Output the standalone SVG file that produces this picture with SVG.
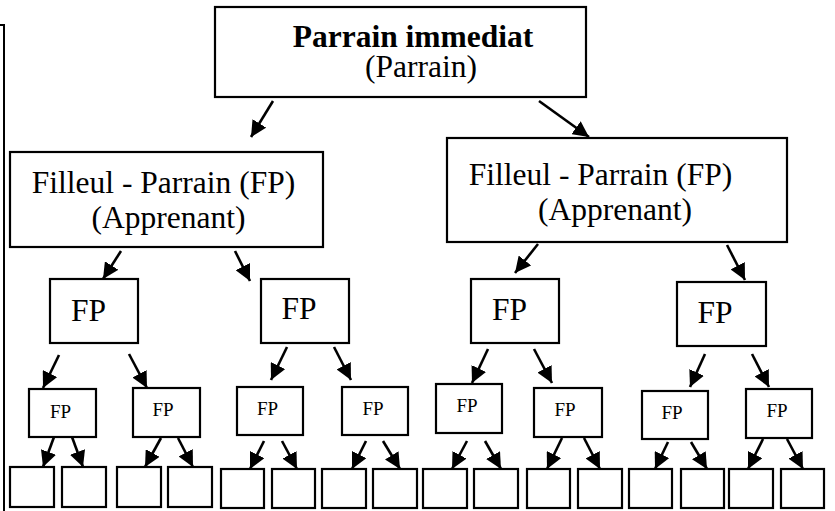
<svg xmlns="http://www.w3.org/2000/svg" width="835" height="511" viewBox="0 0 835 511">
<defs>
<marker id="ah" markerUnits="userSpaceOnUse" markerWidth="17" markerHeight="16" refX="16" refY="8" orient="auto">
<path d="M0,0 L16,8 L0,16 z" fill="#000"/>
</marker>
<style>
.b{fill:#fff;stroke:#000;stroke-width:2.2}
.big{font-size:31.5px}
.sm{font-size:19px}
.c line{stroke:#000;stroke-width:2.6;marker-end:url(#ah)}
</style>
</defs>
<rect width="835" height="511" fill="#fff"/>
<polyline points="0,25 4,25 4,511" fill="none" stroke="#000" stroke-width="2"/>

<g font-family="Liberation Serif, Times New Roman, serif" fill="#000">
<g id="root">
<rect class="b" x="215" y="7" width="371" height="90"/>
<text class="big" x="413" y="47" text-anchor="middle" font-weight="bold">Parrain immediat</text>
<text class="big" x="421" y="77" text-anchor="middle">(Parrain)</text>
</g>
<g id="fp-left">
<rect class="b" x="10" y="152" width="313" height="95"/>
<text class="big" x="163.5" y="193" text-anchor="middle">Filleul - Parrain (FP)</text>
<text class="big" x="168.5" y="228" text-anchor="middle">(Apprenant)</text>
</g>
<g id="fp-right">
<rect class="b" x="447" y="138" width="340" height="104"/>
<text class="big" x="600.5" y="185" text-anchor="middle">Filleul - Parrain (FP)</text>
<text class="big" x="615" y="220" text-anchor="middle">(Apprenant)</text>
</g>

<g id="a"><rect class="b" x="50" y="279" width="88" height="64"/><text class="big" x="88.5" y="321" text-anchor="middle">FP</text></g>
<g id="b"><rect class="b" x="261" y="279" width="88" height="64"/><text class="big" x="299" y="319" text-anchor="middle">FP</text></g>
<g id="d"><rect class="b" x="471" y="279" width="88" height="64"/><text class="big" x="509.5" y="320" text-anchor="middle">FP</text></g>
<g id="e"><rect class="b" x="677" y="282" width="89" height="64"/><text class="big" x="715" y="323" text-anchor="middle">FP</text></g>

<g id="c1"><rect class="b" x="29" y="389" width="67" height="48"/><text class="sm" x="60.5" y="418" text-anchor="middle">FP</text></g>
<g id="c2"><rect class="b" x="133" y="388" width="67" height="49"/><text class="sm" x="163" y="416" text-anchor="middle">FP</text></g>
<g id="c3"><rect class="b" x="237" y="387" width="66" height="48"/><text class="sm" x="267.5" y="415" text-anchor="middle">FP</text></g>
<g id="c4"><rect class="b" x="342" y="387" width="66" height="48"/><text class="sm" x="373" y="415" text-anchor="middle">FP</text></g>
<g id="f1"><rect class="b" x="436" y="384" width="66" height="49"/><text class="sm" x="467" y="412" text-anchor="middle">FP</text></g>
<g id="f2"><rect class="b" x="534" y="388" width="68" height="49"/><text class="sm" x="565" y="416" text-anchor="middle">FP</text></g>
<g id="f3"><rect class="b" x="642" y="391" width="66" height="48"/><text class="sm" x="672" y="419" text-anchor="middle">FP</text></g>
<g id="f4"><rect class="b" x="746" y="389" width="66" height="49"/><text class="sm" x="777" y="417" text-anchor="middle">FP</text></g>
</g>

<g id="l1"><rect class="b" x="10" y="467" width="44" height="40"/></g>
<g id="l2"><rect class="b" x="62" y="467" width="44" height="40"/></g>
<g id="l3"><rect class="b" x="117" y="467" width="44" height="40"/></g>
<g id="l4"><rect class="b" x="168" y="467" width="44" height="40"/></g>
<g id="l5"><rect class="b" x="221" y="469" width="43" height="39"/></g>
<g id="l6"><rect class="b" x="272" y="469" width="43" height="39"/></g>
<g id="l7"><rect class="b" x="322" y="469" width="44" height="39"/></g>
<g id="l8"><rect class="b" x="373" y="469" width="44" height="39"/></g>
<g id="l9"><rect class="b" x="423" y="469" width="44" height="39"/></g>
<g id="l10"><rect class="b" x="474" y="469" width="44" height="39"/></g>
<g id="l11"><rect class="b" x="527" y="469" width="43" height="39"/></g>
<g id="l12"><rect class="b" x="578" y="469" width="44" height="39"/></g>
<g id="l13"><rect class="b" x="629" y="469" width="43" height="39"/></g>
<g id="l14"><rect class="b" x="681" y="469" width="43" height="39"/></g>
<g id="l15"><rect class="b" x="729" y="469" width="44" height="39"/></g>
<g id="l16"><rect class="b" x="781" y="469" width="43" height="39"/></g>

<g id="connectors" class="c">
<line x1="273" y1="101" x2="251" y2="137"/>
<line x1="539" y1="101" x2="589" y2="137"/>
<line x1="121" y1="251" x2="103" y2="279"/>
<line x1="235" y1="251" x2="250" y2="281"/>
<line x1="538" y1="244" x2="515" y2="273"/>
<line x1="727" y1="245" x2="745" y2="280"/>
<line x1="59" y1="355" x2="43" y2="388"/>
<line x1="129" y1="354" x2="147" y2="388"/>
<line x1="287" y1="347" x2="271" y2="380"/>
<line x1="334" y1="347" x2="351" y2="380"/>
<line x1="488" y1="349" x2="472" y2="383"/>
<line x1="534" y1="349" x2="552" y2="383"/>
<line x1="705" y1="354" x2="690" y2="387"/>
<line x1="752" y1="354" x2="769" y2="387"/>
<line x1="54" y1="437" x2="43" y2="467"/>
<line x1="72" y1="437" x2="83" y2="467"/>
<line x1="161" y1="438" x2="145" y2="467"/>
<line x1="178" y1="438" x2="193" y2="467"/>
<line x1="264" y1="441" x2="250" y2="469"/>
<line x1="282" y1="441" x2="297" y2="469"/>
<line x1="366" y1="441" x2="352" y2="469"/>
<line x1="383" y1="441" x2="400" y2="469"/>
<line x1="467" y1="441" x2="452" y2="469"/>
<line x1="485" y1="441" x2="501" y2="469"/>
<line x1="562" y1="438" x2="547" y2="469"/>
<line x1="584" y1="438" x2="600" y2="469"/>
<line x1="668" y1="442" x2="655" y2="469"/>
<line x1="691" y1="442" x2="707" y2="469"/>
<line x1="763" y1="439" x2="748" y2="469"/>
<line x1="787" y1="439" x2="803" y2="469"/>
</g>
</svg>
